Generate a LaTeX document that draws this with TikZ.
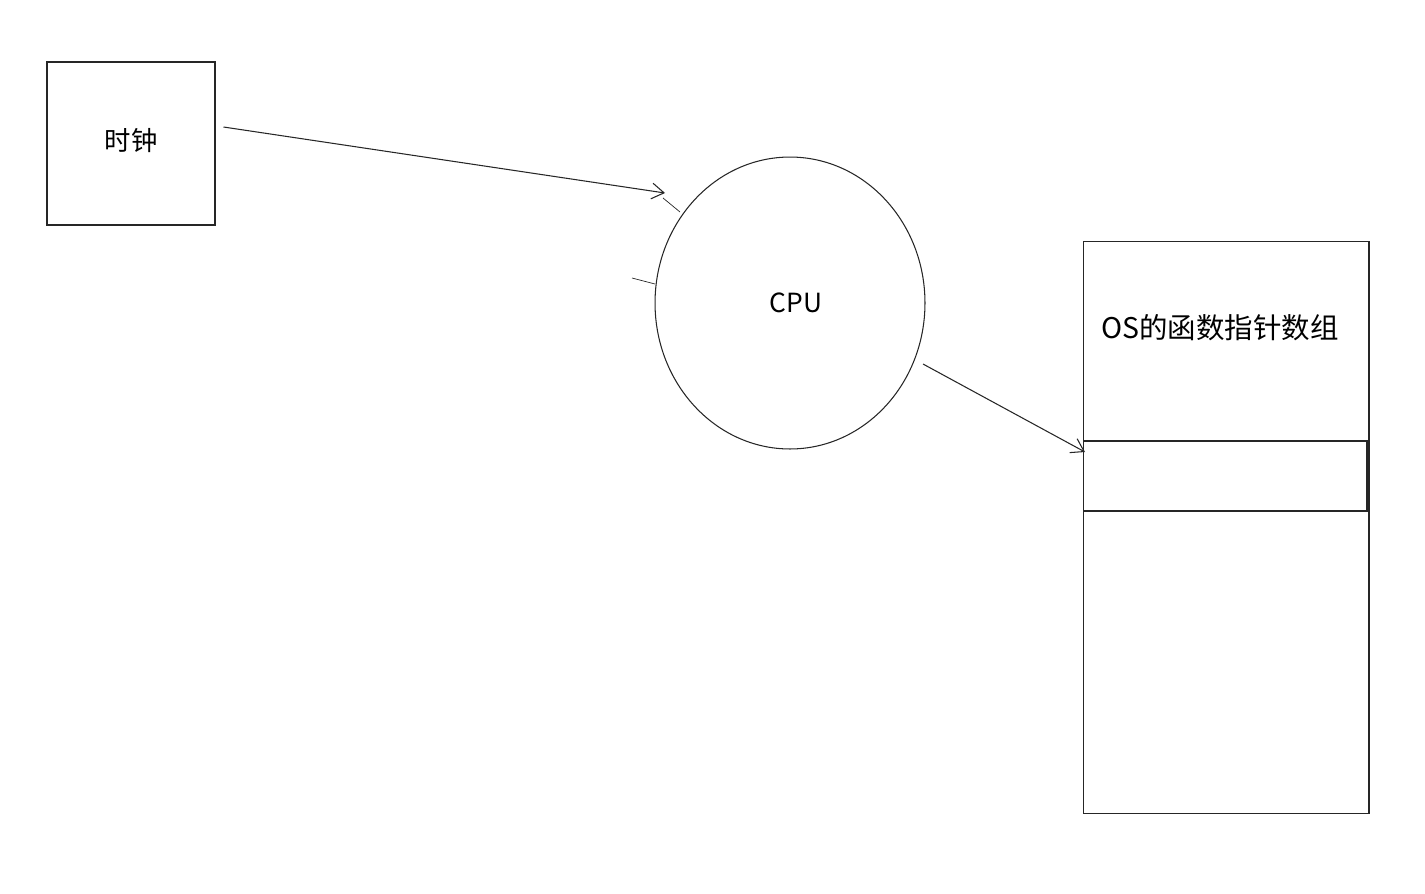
\documentclass[tikz,border=0pt]{standalone}
\usepackage{fontspec}
\setmainfont{Noto Sans CJK SC}
\usepackage{tikz}
\usetikzlibrary{shapes.geometric,arrows.meta}

\tikzset{
    sketch/.style={draw=black!85,line width=0.6pt},
    box/.style={sketch,rectangle,inner sep=0pt},
}

\begin{document}
\begin{tikzpicture}[x=0.02cm,y=-0.02cm,
    font=\fontsize{15}{18}\selectfont,
    >={Straight Barb[length=7pt,width=9pt]}]
    \useasboundingbox (0,0) rectangle (1425,893);

    % Clock box.
    \node[box,minimum width=3.36cm,minimum height=3.26cm]
        (clock) at (131,143.5) {};
    \node (clock-label) at (131,141) {时钟};

    % CPU.
    \node[sketch,ellipse,inner sep=0pt,
        minimum width=5.40cm,minimum height=5.84cm] (cpu) at (790,303) {};
    \node (cpu-label) at (796,303) {CPU};
    \draw[sketch,line width=0.4pt] (663,198) -- (680,212);
    \draw[sketch,line width=0.4pt] (632,278) -- (655,284);

    % Array of OS function pointers.
    \node[box,minimum width=5.72cm,minimum height=11.46cm]
        (table) at (1226,527.5) {};
    \node[font=\fontsize{16.2}{19}\selectfont]
        (table-label) at (1220,328) {OS的函数指针数组};
    \node[box,minimum width=5.68cm,minimum height=1.40cm]
        (slot) at (1225,476) {};

    \coordinate (cpu-in) at (665,193);
    \coordinate (slot-in) at (1085,452);
    \draw[sketch,->] ([shift={(8,-16.5)}]clock.east) -- (cpu-in);
    \draw[sketch,->] ([shift={(133,61)}]cpu.center) -- (slot-in);
\end{tikzpicture}
\end{document}
